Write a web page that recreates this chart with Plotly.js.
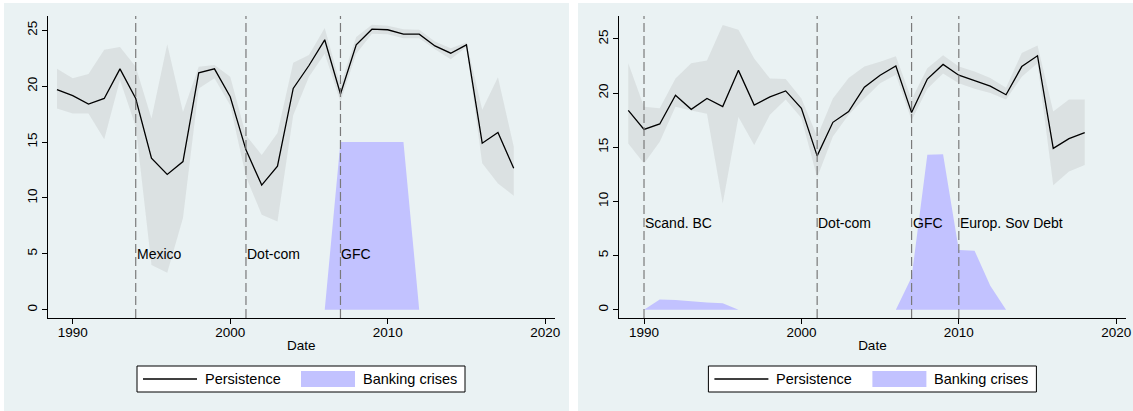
<!DOCTYPE html>
<html>
<head>
<meta charset="utf-8">
<script src="https://cdn.plot.ly/plotly-3.0.1.min.js"></script>
<style>html,body{margin:0;padding:0;background:#fff;}#chart{width:1133px;height:411px;}</style>
</head>
<body>
<div id="chart"></div>
<script>
// ---------- data ----------
const years = [1989,1990,1991,1992,1993,1994,1995,1996,1997,1998,1999,2000,2001,2002,2003,
               2004,2005,2006,2007,2008,2009,2010,2011,2012,2013,2014,2015,2016,2017,2018];

// left panel
const persistL = [19.7,19.15,18.4,18.9,21.55,18.9,13.55,12.1,13.25,21.2,21.55,19.05,14.3,11.15,12.85,
                  19.8,21.85,24.15,19.3,23.7,25.1,25.05,24.65,24.65,23.6,22.95,23.7,14.9,15.85,12.65];
const upperL   = [21.55,20.7,21.1,23.25,23.5,21.75,17.1,23.75,17.7,21.75,21.9,20.85,15.6,13.85,15.8,
                  22.1,22.8,25.2,20.1,24.4,25.5,25.4,25.1,25.05,24.0,23.4,23.9,17.9,20.8,14.6];
const lowerL   = [18.0,17.55,17.55,15.25,20.55,16.4,4.0,3.3,8.2,19.8,20.7,18.3,11.9,8.5,7.9,
                  17.4,20.85,22.9,18.6,22.9,24.7,24.65,24.3,24.3,23.3,22.4,23.5,13.1,11.3,10.2];
const crisisYearsL = [2006,2007,2008,2009,2010,2011,2012];
const crisisL      = [0,15,15,15,15,15,0];
const eventsL      = [1994,2001,2007];
const eventLabelsL = ["Mexico","Dot-com","GFC"];
const eventLabelYL = 5;

// right panel
const persistR = [18.4,16.65,17.15,19.8,18.5,19.5,18.75,22.1,18.9,19.65,20.2,18.6,14.2,17.3,18.3,
                  20.55,21.65,22.5,18.2,21.3,22.65,21.65,21.15,20.65,19.85,22.45,23.45,14.9,15.8,16.35];
const upperR   = [22.75,18.75,18.6,21.35,22.75,23.0,26.3,25.85,23.2,21.35,21.3,19.5,16.0,19.5,21.4,
                  22.45,22.9,23.4,19.4,22.3,23.5,22.45,22.0,21.4,20.5,23.7,24.4,18.3,19.4,19.4];
const lowerR   = [15.35,13.5,15.5,18.75,18.4,18.1,9.8,17.8,15.2,18.0,19.4,17.7,12.2,16.0,18.0,
                  19.5,20.9,21.7,17.5,20.4,21.8,20.9,20.4,20.0,19.4,21.5,22.75,11.5,12.75,13.35];
const crisisYearsR = [1990,1991,1992,1993,1994,1995,1996,1997,1998,1999,2000,2001,2002,2003,2004,2005,
                      2006,2007,2008,2009,2010,2011,2012,2013];
const crisisR      = [0,0.95,0.9,0.75,0.65,0.6,0,0,0,0,0,0,0,0,0,0,
                      0,3.0,14.3,14.35,5.5,5.45,2.2,0];
const eventsR      = [1990,2001,2007,2010];
const eventLabelsR = ["Scand. BC","Dot-com","GFC","Europ. Sov Debt"];
const eventLabelYR = 8;

const xTicks = [1990,2000,2010,2020];
const yTicks = [0,5,10,15,20,25];
const legendNames = ["Persistence","Banking crises"];

// ---------- style ----------
const W = 1133, H = 411;
const FONT = "Liberation Sans, Arial, Helvetica, sans-serif";
const BG = "#EAF2F3";
const BAND = "rgba(160,160,160,0.2)";
const BLUE = "#C2C2FF";
const px = v => v / W;
const py = v => (H - v) / H;

function panelTraces(xa, ya, persist, upper, lower, cy, cv) {
  return [
    {x: years, y: lower, xaxis: xa, yaxis: ya, type: "scatter", mode: "lines",
     line: {width: 0, color: BAND}, showlegend: false, hoverinfo: "skip"},
    {x: years, y: upper, xaxis: xa, yaxis: ya, type: "scatter", mode: "lines",
     line: {width: 0, color: BAND}, fill: "tonexty", fillcolor: BAND, showlegend: false, hoverinfo: "skip"},
    {x: cy, y: cv, xaxis: xa, yaxis: ya, type: "scatter", mode: "lines",
     line: {width: 0, color: BLUE}, fill: "tozeroy", fillcolor: BLUE, name: legendNames[1], showlegend: false},
    {x: years, y: persist, xaxis: xa, yaxis: ya, type: "scatter", mode: "lines",
     line: {width: 1.3, color: "#000"}, name: legendNames[0], showlegend: false}
  ];
}

const data = [
  ...panelTraces("x", "y", persistL, upperL, lowerL, crisisYearsL, crisisL),
  ...panelTraces("x2", "y2", persistR, upperR, lowerR, crisisYearsR, crisisR)
];

function xax(domain, anchor) {
  return {
    domain: domain, anchor: anchor, range: [1988.43, 2020.59],
    tickvals: xTicks, ticks: "outside", ticklen: 5, tickwidth: 1, tickcolor: "#000",
    ticklabelstandoff: -3,
    showline: true, linecolor: "#000", linewidth: 1, showgrid: false, zeroline: false,
    tickfont: {family: FONT, size: 13.5, color: "#000"},
    title: {text: "Date", font: {family: FONT, size: 13.5, color: "#000"}, standoff: 1}
  };
}
function yax(range, anchor) {
  return {
    domain: [py(318), py(16)], anchor: anchor, range: range,
    tickvals: yTicks, ticks: "outside", ticklen: 5, tickwidth: 1, tickcolor: "#000", tickangle: -90,
    showline: true, linecolor: "#000", linewidth: 1, showgrid: true, gridcolor: BG, gridwidth: 1,
    zeroline: false, tickfont: {family: FONT, size: 13.5, color: "#000"}
  };
}

const shapes = [
  {type: "rect", xref: "paper", yref: "paper", x0: px(4), x1: px(569), y0: 0, y1: py(3),
   fillcolor: BG, line: {width: 0}, layer: "below"},
  {type: "rect", xref: "paper", yref: "paper", x0: px(578), x1: 1, y0: 0, y1: py(3),
   fillcolor: BG, line: {width: 0}, layer: "below"}
];
const annotations = [];

function addEvents(events, labels, labelY, xr, yr) {
  events.forEach((e, i) => {
    shapes.push({type: "line", xref: xr, yref: yr + " domain", x0: e, x1: e, y0: 0, y1: 1,
                 line: {color: "#7a7a7a", width: 1.2, dash: "9px,4px"}, layer: "above"});
    annotations.push({xref: xr, yref: yr, x: e, y: labelY, text: labels[i], showarrow: false,
                      xanchor: "left", yanchor: "middle", xshift: 0, borderpad: 0,
                      font: {family: FONT, size: 14, color: "#000"}});
  });
}
addEvents(eventsL, eventLabelsL, eventLabelYL, "x", "y");
addEvents(eventsR, eventLabelsR, eventLabelYR, "x2", "y2");

// legends (Stata-style boxed legend centred under each plot)
function addLegend(cx) {
  const top = 366, bot = 392, mid = 379, left = cx - 164;
  shapes.push({type: "rect", xref: "paper", yref: "paper", x0: px(left), x1: px(left + 328),
               y0: py(bot), y1: py(top), fillcolor: "#fff", line: {color: "#000", width: 1}});
  shapes.push({type: "line", xref: "paper", yref: "paper", x0: px(left + 6), x1: px(left + 60),
               y0: py(mid), y1: py(mid), line: {color: "#000", width: 1.3}});
  shapes.push({type: "rect", xref: "paper", yref: "paper", x0: px(left + 164), x1: px(left + 218),
               y0: py(mid + 8), y1: py(mid - 8), fillcolor: BLUE, line: {width: 0}});
  annotations.push({xref: "paper", yref: "paper", x: px(left + 67), y: py(mid), text: legendNames[0],
                    showarrow: false, xanchor: "left", yanchor: "middle", borderpad: 0,
                    font: {family: FONT, size: 14.5, color: "#000"}});
  annotations.push({xref: "paper", yref: "paper", x: px(left + 225), y: py(mid), text: legendNames[1],
                    showarrow: false, xanchor: "left", yanchor: "middle", borderpad: 0,
                    font: {family: FONT, size: 14.5, color: "#000"}});
}
addLegend(301);
addLegend(872.4);

const layout = {
  width: W, height: H,
  margin: {l: 0, r: 0, t: 0, b: 0},
  paper_bgcolor: "#fff", plot_bgcolor: "#fff",
  showlegend: false,
  font: {family: FONT, color: "#000"},
  xaxis: xax([px(48), px(554.5)], "y"),
  yaxis: yax([-0.743, 26.28], "x"),
  xaxis2: xax([px(619.3), px(1125.5)], "y2"),
  yaxis2: yax([-0.77, 27.12], "x2"),
  shapes: shapes,
  annotations: annotations
};

Plotly.newPlot("chart", data, layout, {staticPlot: true, displayModeBar: false});
</script>
</body>
</html>
